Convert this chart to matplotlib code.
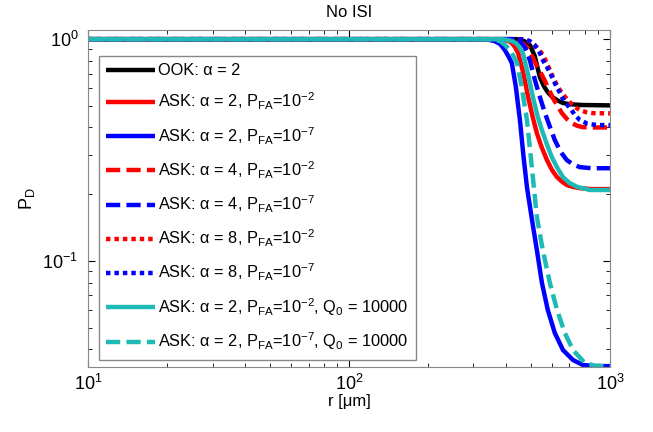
#!/usr/bin/env python3
"""Detection probability against distance, no ISI."""
import matplotlib
matplotlib.use("Agg")
import matplotlib.pyplot as plt

# distance r [um] and P_D
r_ook = [10, 440, 470, 494, 515, 539, 560, 578, 600, 627, 660, 703, 780, 1000]
pd_ook = [1.0, 1.0, 0.98, 0.94, 0.84, 0.674, 0.61, 0.577, 0.55, 0.531, 0.516,
          0.509, 0.505, 0.503]

r_a2_2 = [10, 380, 396, 410, 421, 433, 445, 465, 486, 505, 525, 548, 574, 600,
          627, 655, 684, 720, 767, 850, 1000]
pd_a2_2 = [1.0, 1.0, 0.99, 0.98, 0.96, 0.92, 0.865, 0.71, 0.548, 0.45, 0.377,
           0.325, 0.285, 0.257, 0.239, 0.228, 0.220, 0.216, 0.213, 0.211, 0.211]

r_a2_7 = [10, 318, 340, 362, 380, 396, 410, 421, 436, 452, 466, 481, 503, 525,
          549, 578, 615, 661, 722, 788, 880, 1000]
pd_a2_7 = [1.0, 1.0, 0.995, 0.98, 0.95, 0.892, 0.83, 0.78, 0.61, 0.432, 0.30,
           0.215, 0.153, 0.112, 0.0796, 0.0602, 0.0474, 0.0397, 0.0358, 0.0340,
           0.0336, 0.0336]

r_a4_2 = [10, 420, 440, 462, 485, 505, 525, 545, 564, 585, 605, 630, 655, 685,
          715, 750, 788, 870, 1000]
pd_a4_2 = [1.0, 1.0, 0.99, 0.96, 0.911, 0.83, 0.756, 0.70, 0.647, 0.59, 0.542,
           0.50, 0.464, 0.436, 0.418, 0.407, 0.401, 0.400, 0.400]

r_a4_7 = [10, 410, 425, 440, 452, 472, 494, 516, 540, 564, 590, 615, 648, 684,
          725, 767, 850, 1000]
pd_a4_7 = [1.0, 1.0, 0.995, 0.99, 0.98, 0.92, 0.80, 0.654, 0.545, 0.464, 0.40,
           0.351, 0.31, 0.285, 0.272, 0.265, 0.262, 0.262]

r_a8_2 = [10, 460, 480, 505, 530, 553, 570, 589, 610, 632, 660, 690, 725, 767,
          810, 861, 1000]
pd_a8_2 = [1.0, 1.0, 0.99, 0.96, 0.91, 0.85, 0.79, 0.725, 0.66, 0.608, 0.565,
           0.531, 0.50, 0.479, 0.469, 0.464, 0.463]

r_a8_7 = [10, 450, 470, 494, 515, 539, 555, 574, 595, 615, 635, 655, 678, 703,
          735, 767, 820, 892, 1000]
pd_a8_7 = [1.0, 1.0, 0.995, 0.98, 0.94, 0.865, 0.80, 0.748, 0.69, 0.634, 0.59,
           0.548, 0.515, 0.489, 0.455, 0.432, 0.416, 0.410, 0.410]

r_q_2 = [10, 390, 407, 422, 437, 450, 464, 485, 507, 528, 549, 574, 599, 630,
         661, 700, 748, 838, 1000]
pd_q_2 = [1.0, 1.0, 0.99, 0.98, 0.96, 0.92, 0.865, 0.70, 0.548, 0.45, 0.389,
          0.335, 0.294, 0.262, 0.239, 0.225, 0.216, 0.209, 0.209]

r_q_7 = [10, 330, 355, 379, 397, 414, 427, 441, 460, 481, 503, 525, 553, 589,
         627, 672, 722, 802, 880, 1000]
pd_q_7 = [1.0, 1.0, 0.995, 0.98, 0.94, 0.892, 0.84, 0.78, 0.60, 0.432, 0.26,
          0.158, 0.112, 0.0796, 0.0602, 0.0474, 0.0397, 0.0347, 0.0337, 0.0336]

labels = [
    r"OOK: α = 2",
    r"ASK: α = 2, P$_{\mathrm{FA}}$=10$^{\mathrm{-2}}$",
    r"ASK: α = 2, P$_{\mathrm{FA}}$=10$^{\mathrm{-7}}$",
    r"ASK: α = 4, P$_{\mathrm{FA}}$=10$^{\mathrm{-2}}$",
    r"ASK: α = 4, P$_{\mathrm{FA}}$=10$^{\mathrm{-7}}$",
    r"ASK: α = 8, P$_{\mathrm{FA}}$=10$^{\mathrm{-2}}$",
    r"ASK: α = 8, P$_{\mathrm{FA}}$=10$^{\mathrm{-7}}$",
    r"ASK: α = 2, P$_{\mathrm{FA}}$=10$^{\mathrm{-2}}$, Q$_{\mathrm{0}}$ = 10000",
    r"ASK: α = 2, P$_{\mathrm{FA}}$=10$^{\mathrm{-7}}$, Q$_{\mathrm{0}}$ = 10000",
]

RED, BLUE, CYAN = "#ff0000", "#0000ff", "#1fbab5"
SOLID, DASH, DOT = (None, (3.2, 1.4), (1.0, 0.9))


def plot_no_isi():
    plt.rcParams["font.family"] = ["Liberation Sans", "DejaVu Sans"]
    plt.rcParams["mathtext.fontset"] = "custom"
    plt.rcParams["mathtext.rm"] = "Liberation Sans"
    plt.rcParams["mathtext.it"] = "Liberation Sans:italic"
    plt.rcParams["mathtext.bf"] = "Liberation Sans:bold"

    fig = plt.figure(figsize=(6.53, 4.32), dpi=100)
    ax = fig.add_axes([0.1348, 0.1505, 0.7992, 0.7801])

    series = [
        (r_ook, pd_ook, "k", SOLID),
        (r_a2_2, pd_a2_2, RED, SOLID),
        (r_a2_7, pd_a2_7, BLUE, SOLID),
        (r_a4_2, pd_a4_2, RED, DASH),
        (r_a4_7, pd_a4_7, BLUE, DASH),
        (r_a8_2, pd_a8_2, RED, DOT),
        (r_a8_7, pd_a8_7, BLUE, DOT),
        (r_q_2, pd_q_2, CYAN, SOLID),
        (r_q_7, pd_q_7, CYAN, DASH),
    ]
    for (x, y, col, dash), lab in zip(series, labels):
        line, = ax.plot(x, y, color=col, linewidth=3.2, label=lab,
                        solid_capstyle="butt", dash_capstyle="butt",
                        solid_joinstyle="round")
        if dash is not None:
            line.set_dashes(dash)

    ax.set_xscale("log")
    ax.set_yscale("log")
    ax.set_xlim(10, 1000)
    ax.set_ylim(0.0333, 1.1)
    ax.set_title("No ISI", fontsize=12, pad=9)
    ax.set_xlabel("r [μm]", fontsize=12, labelpad=0)
    ax.set_ylabel(r"P$_{\mathrm{D}}$", fontsize=13, labelpad=4)
    ax.tick_params(which="both", direction="in", top=True, right=True,
                   labelsize=13)
    ax.tick_params(which="major", length=5)
    ax.tick_params(axis="x", which="major", pad=5)
    ax.tick_params(axis="y", which="major", pad=7)
    ax.tick_params(which="minor", length=3)
    for sp in ax.spines.values():
        sp.set_color("#888888")

    leg = ax.legend(loc="upper left", bbox_to_anchor=(0.021, 0.923),
                    borderaxespad=0, fontsize=11.8, handlelength=2.95,
                    labelspacing=0.78, fancybox=False, framealpha=1,
                    edgecolor="#888888", borderpad=0.45, handletextpad=0.2)
    leg.get_frame().set_linewidth(1.0)

    fig.savefig("out.png", dpi=100)


if __name__ == "__main__":
    plot_no_isi()
